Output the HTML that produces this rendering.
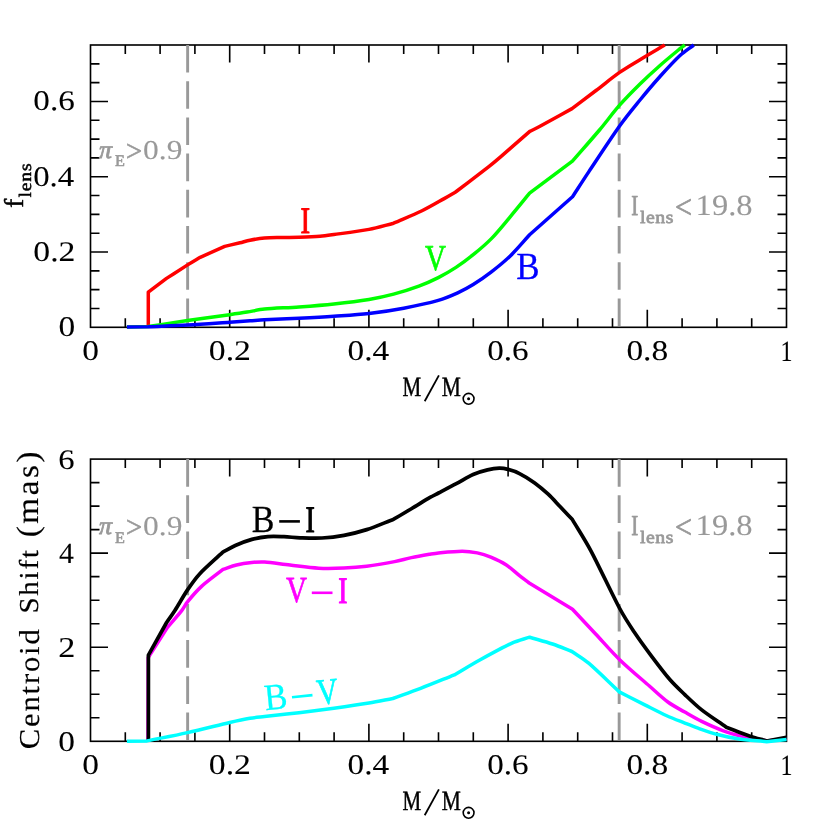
<!DOCTYPE html>
<html><head><meta charset="utf-8"><title>chart</title>
<style>html,body{margin:0;padding:0;background:#fff}svg{display:block;will-change:transform}text{text-rendering:geometricPrecision}</style>
</head><body>
<svg width="830" height="830" viewBox="0 0 830 830">
<rect width="830" height="830" fill="#fff"/>
<path d="M125.30 327.30v-9.00M125.30 45.00v9.00M160.10 327.30v-9.00M160.10 45.00v9.00M194.90 327.30v-9.00M194.90 45.00v9.00M229.70 327.30v-17.50M229.70 45.00v17.50M264.50 327.30v-9.00M264.50 45.00v9.00M299.30 327.30v-9.00M299.30 45.00v9.00M334.10 327.30v-9.00M334.10 45.00v9.00M368.90 327.30v-17.50M368.90 45.00v17.50M403.70 327.30v-9.00M403.70 45.00v9.00M438.50 327.30v-9.00M438.50 45.00v9.00M473.30 327.30v-9.00M473.30 45.00v9.00M508.10 327.30v-17.50M508.10 45.00v17.50M542.90 327.30v-9.00M542.90 45.00v9.00M577.70 327.30v-9.00M577.70 45.00v9.00M612.50 327.30v-9.00M612.50 45.00v9.00M647.30 327.30v-17.50M647.30 45.00v17.50M682.10 327.30v-9.00M682.10 45.00v9.00M716.90 327.30v-9.00M716.90 45.00v9.00M751.70 327.30v-9.00M751.70 45.00v9.00M90.50 308.48h9.00M786.50 308.48h-9.00M90.50 289.66h9.00M786.50 289.66h-9.00M90.50 270.84h9.00M786.50 270.84h-9.00M90.50 252.02h17.50M786.50 252.02h-17.50M90.50 233.20h9.00M786.50 233.20h-9.00M90.50 214.38h9.00M786.50 214.38h-9.00M90.50 195.56h9.00M786.50 195.56h-9.00M90.50 176.74h17.50M786.50 176.74h-17.50M90.50 157.92h9.00M786.50 157.92h-9.00M90.50 139.10h9.00M786.50 139.10h-9.00M90.50 120.28h9.00M786.50 120.28h-9.00M90.50 101.46h17.50M786.50 101.46h-17.50M90.50 82.64h9.00M786.50 82.64h-9.00M90.50 63.82h9.00M786.50 63.82h-9.00" stroke="#000" stroke-width="1.62" fill="none"/>
<rect x="90.50" y="45.00" width="696.00" height="282.30" fill="none" stroke="#000" stroke-width="1.62"/>
<line x1="187.64" y1="45.00" x2="187.64" y2="327.30" stroke="#999" stroke-width="2.9" stroke-dasharray="27.6 8.6"/>
<line x1="619.16" y1="45.00" x2="619.16" y2="327.30" stroke="#999" stroke-width="2.9" stroke-dasharray="27.6 8.6"/>
<path d="M148.30 327.00L148.30 292.20L166.50 278.40C173.53 273.90 181.98 268.42 187.60 264.90C191.80 262.27 196.00 259.83 200.20 257.30L224.70 246.40C229.80 245.20 235.78 243.83 240.00 242.80C243.33 241.98 246.67 240.85 250.00 240.20C254.08 239.40 259.67 238.41 264.50 238.00C269.83 237.55 276.25 237.63 282.00 237.50C287.67 237.37 293.33 237.39 299.00 237.20C305.33 236.98 314.18 236.65 320.00 236.20C324.63 235.84 329.27 235.14 333.90 234.50C342.07 233.37 359.05 231.28 369.00 229.40C377.20 227.85 385.40 225.27 393.60 223.20C403.07 219.07 413.57 214.90 422.00 210.80C429.40 207.20 438.60 201.73 444.20 198.60C448.00 196.47 451.80 194.20 455.60 192.00C466.57 183.60 481.10 172.58 488.50 166.80C492.33 163.80 496.17 160.59 500.00 157.30C506.88 151.40 519.87 140.03 529.80 131.40C533.20 129.70 536.60 128.14 540.00 126.30C547.03 122.50 561.33 114.50 572.00 108.60C580.00 102.57 588.07 96.53 596.00 90.50C603.87 84.52 611.93 77.73 619.60 72.40C627.07 67.21 634.53 63.03 642.00 58.50C649.53 53.93 657.20 49.50 664.80 45.00" fill="none" stroke="#f00" stroke-width="3.50" stroke-linejoin="round" stroke-linecap="butt"/>
<path d="M126.90 327.00L148.30 326.50C161.40 324.53 174.50 322.50 187.60 320.60C201.17 318.63 219.80 316.12 229.70 314.70C235.47 313.87 241.23 313.03 247.00 312.10C252.80 311.17 258.67 309.68 264.50 309.10C273.17 308.23 287.50 307.76 299.00 306.90C310.57 306.03 322.27 305.15 333.90 303.90C345.57 302.65 359.05 301.03 369.00 299.40C377.20 298.05 385.40 296.29 393.60 294.10C401.92 291.88 411.45 288.85 418.90 286.10C425.37 283.71 432.12 280.72 438.30 277.60C444.20 274.63 450.18 271.22 456.00 267.40C461.73 263.64 467.47 259.36 473.20 254.70C479.10 249.90 485.33 244.81 491.40 238.60C497.53 232.33 503.80 224.43 510.00 217.06C516.37 209.49 523.07 201.15 529.60 193.20L572.40 161.20C581.43 150.80 591.63 139.33 599.50 130.00C606.20 122.05 612.90 112.81 619.60 105.20C626.35 97.53 633.27 90.62 640.00 84.00C646.67 77.45 653.33 71.38 660.00 65.50C666.67 59.62 675.85 52.12 680.00 48.70C681.63 47.36 683.27 46.23 684.90 45.00" fill="none" stroke="#0f0" stroke-width="3.50" stroke-linejoin="round" stroke-linecap="butt"/>
<path d="M126.90 327.00L148.30 326.80C161.40 326.23 174.50 325.84 187.60 325.10C201.17 324.33 219.30 322.92 229.70 322.20C236.47 321.73 244.20 321.20 250.00 320.80C254.83 320.47 259.67 320.06 264.50 319.80C272.67 319.37 287.50 318.80 299.00 318.20C310.57 317.60 322.27 316.98 333.90 316.20C345.57 315.42 357.37 314.83 369.00 313.50C380.57 312.17 392.15 310.38 403.70 308.20C415.23 306.02 429.30 302.95 438.30 300.40C444.77 298.57 451.88 295.53 457.70 292.90C462.87 290.56 468.03 287.82 473.20 284.60C478.82 281.10 485.33 276.58 491.40 271.90C497.53 267.17 503.80 262.22 510.00 256.20C516.37 250.02 523.07 241.93 529.60 234.80L572.50 196.70C577.97 188.33 583.43 179.81 588.90 171.60C596.75 159.82 611.08 137.93 619.60 126.00C626.40 116.47 633.27 108.25 640.00 100.00C646.67 91.83 653.33 83.92 660.00 76.50C666.67 69.08 674.37 60.75 680.00 55.50C684.60 51.21 689.20 48.50 693.80 45.00" fill="none" stroke="#00f" stroke-width="3.50" stroke-linejoin="round" stroke-linecap="butt"/>
<path d="M125.30 741.30v-9.00M125.30 459.10v9.00M160.10 741.30v-9.00M160.10 459.10v9.00M194.90 741.30v-9.00M194.90 459.10v9.00M229.70 741.30v-17.50M229.70 459.10v17.50M264.50 741.30v-9.00M264.50 459.10v9.00M299.30 741.30v-9.00M299.30 459.10v9.00M334.10 741.30v-9.00M334.10 459.10v9.00M368.90 741.30v-17.50M368.90 459.10v17.50M403.70 741.30v-9.00M403.70 459.10v9.00M438.50 741.30v-9.00M438.50 459.10v9.00M473.30 741.30v-9.00M473.30 459.10v9.00M508.10 741.30v-17.50M508.10 459.10v17.50M542.90 741.30v-9.00M542.90 459.10v9.00M577.70 741.30v-9.00M577.70 459.10v9.00M612.50 741.30v-9.00M612.50 459.10v9.00M647.30 741.30v-17.50M647.30 459.10v17.50M682.10 741.30v-9.00M682.10 459.10v9.00M716.90 741.30v-9.00M716.90 459.10v9.00M751.70 741.30v-9.00M751.70 459.10v9.00M90.50 717.78h9.00M786.50 717.78h-9.00M90.50 694.27h9.00M786.50 694.27h-9.00M90.50 670.75h9.00M786.50 670.75h-9.00M90.50 647.23h17.50M786.50 647.23h-17.50M90.50 623.72h9.00M786.50 623.72h-9.00M90.50 600.20h9.00M786.50 600.20h-9.00M90.50 576.68h9.00M786.50 576.68h-9.00M90.50 553.17h17.50M786.50 553.17h-17.50M90.50 529.65h9.00M786.50 529.65h-9.00M90.50 506.13h9.00M786.50 506.13h-9.00M90.50 482.62h9.00M786.50 482.62h-9.00" stroke="#000" stroke-width="1.62" fill="none"/>
<rect x="90.50" y="459.10" width="696.00" height="282.20" fill="none" stroke="#000" stroke-width="1.62"/>
<line x1="187.64" y1="459.10" x2="187.64" y2="741.30" stroke="#999" stroke-width="2.9" stroke-dasharray="27.6 8.6"/>
<line x1="619.16" y1="459.10" x2="619.16" y2="741.30" stroke="#999" stroke-width="2.9" stroke-dasharray="27.6 8.6"/>
<path d="M148.00 741.00L148.20 657.60L167.50 627.30C172.23 621.73 178.37 614.85 181.70 610.60C183.63 608.13 185.57 604.17 187.50 601.80C190.77 597.80 196.70 590.80 201.30 586.60C207.22 581.20 215.77 575.13 223.00 569.40C227.50 567.93 232.00 566.08 236.50 565.00C241.28 563.85 247.02 563.00 251.70 562.50C256.00 562.04 260.30 561.71 264.60 562.00C270.98 562.43 281.53 564.13 290.00 565.10C299.02 566.13 309.70 567.71 318.70 568.21C327.13 568.67 336.00 568.40 344.00 568.08C351.57 567.77 359.13 567.23 366.70 566.27C375.13 565.19 387.15 563.06 394.60 561.63C400.20 560.55 405.80 558.82 411.40 557.64C417.30 556.41 425.48 554.99 430.00 554.20C432.83 553.70 435.67 553.16 438.50 552.90C443.87 552.40 455.73 551.20 462.20 551.20C467.23 551.20 472.53 551.92 477.30 552.90C481.80 553.83 486.30 555.25 490.80 557.10C495.58 559.07 501.22 561.62 506.00 564.70C510.50 567.60 515.63 572.55 519.50 575.60C522.73 578.15 525.97 580.53 529.20 583.00L572.50 609.20C580.13 617.37 587.77 625.54 595.40 633.70C603.30 642.15 611.73 651.99 619.90 659.90C628.90 668.62 641.40 678.98 649.40 686.00C655.57 691.41 662.00 697.65 667.90 702.00C673.53 706.15 679.17 708.87 684.80 712.10C690.43 715.33 696.07 718.67 701.70 721.40C708.13 724.52 716.42 728.27 723.40 730.80C730.13 733.24 736.87 735.01 743.60 736.60C750.82 738.30 759.00 739.53 766.70 741.00L786.50 738.50" fill="none" stroke="#f0f" stroke-width="3.50" stroke-linejoin="round" stroke-linecap="butt"/>
<path d="M148.40 741.00L148.40 655.20L166.60 622.50C169.37 618.50 172.13 614.82 174.90 610.50C178.38 605.07 183.38 596.00 187.50 589.90C191.53 583.92 195.57 578.22 199.60 573.90C205.48 567.60 215.07 559.37 222.80 552.10C226.97 549.90 231.13 547.32 235.30 545.50C240.15 543.38 246.47 540.88 251.90 539.40C257.23 537.94 262.57 537.05 267.90 536.60C273.25 536.15 278.65 536.50 284.00 536.70C289.33 536.90 294.67 537.62 300.00 537.80C306.33 538.02 314.67 538.42 322.00 538.01C329.33 537.59 336.67 536.69 344.00 535.32C351.45 533.92 359.13 532.07 366.70 529.62C374.98 526.94 384.70 522.68 393.70 519.21C399.60 515.72 405.50 512.28 411.40 508.74C417.45 505.10 425.48 500.02 430.00 497.40C432.83 495.75 435.67 494.48 438.50 493.00C442.88 490.72 450.53 486.78 456.30 483.70C461.90 480.71 467.90 476.80 473.10 474.50C477.90 472.38 483.13 470.95 487.50 469.90C491.43 468.95 495.88 468.28 499.30 468.20C502.20 468.13 505.10 468.62 508.00 469.40C511.37 470.30 515.67 471.66 519.50 473.60C523.95 475.85 529.92 479.47 534.70 482.90C539.20 486.13 543.98 490.27 548.20 494.20C552.13 497.87 556.07 502.37 560.00 506.50C564.03 510.73 568.27 515.23 572.40 519.60C578.57 530.00 584.73 539.21 590.90 550.80C598.78 565.62 612.48 594.97 619.70 608.50C624.53 617.56 629.37 624.75 634.20 632.00C639.43 639.85 645.47 648.07 651.10 655.60C657.00 663.48 663.98 672.80 669.60 679.30C674.67 685.16 679.73 689.77 684.80 694.60C690.15 699.70 696.07 705.47 701.70 709.90C708.62 715.33 718.10 721.43 726.30 727.20C734.00 730.10 742.67 733.60 749.40 735.90C755.17 737.87 760.93 739.30 766.70 741.00L786.50 737.30" fill="none" stroke="#000" stroke-width="3.70" stroke-linejoin="round" stroke-linecap="butt"/>
<path d="M126.90 741.20L147.10 740.90C160.60 738.13 174.10 735.61 187.60 732.60C201.37 729.53 219.30 724.88 229.70 722.50C236.47 720.95 244.20 719.30 250.00 718.31C254.83 717.49 259.67 717.14 264.50 716.59C272.67 715.65 287.50 714.09 299.00 712.70C310.57 711.30 322.27 709.81 333.90 708.20C345.57 706.58 359.18 704.62 369.00 703.00C376.93 701.69 384.87 700.00 392.80 698.50C402.07 695.13 411.33 691.96 420.60 688.40C430.85 684.47 443.07 679.40 454.30 674.90C462.80 669.93 471.30 664.68 479.80 660.00C489.42 654.70 503.68 646.90 512.00 643.10C517.90 640.40 523.80 639.17 529.70 637.20C537.30 639.47 545.47 641.62 552.50 644.00C558.97 646.19 565.43 649.00 571.90 651.50C577.50 655.40 583.10 658.43 588.70 663.20C596.60 669.93 609.10 682.33 619.30 691.90C627.63 696.13 636.48 700.67 644.30 704.60C651.60 708.27 659.45 712.42 666.20 715.50C672.40 718.33 679.62 721.03 684.80 723.10C688.97 724.76 693.13 726.45 697.30 727.90C702.77 729.80 710.85 732.68 717.60 734.50C724.33 736.31 731.07 737.81 737.80 738.80C745.98 740.00 757.07 740.73 766.70 741.70L786.50 739.50" fill="none" stroke="#0ff" stroke-width="3.50" stroke-linejoin="round" stroke-linecap="butt"/>
<text transform="matrix(0.3338 0 0 0.2841 82.15 360.09)" font-size="100" fill="#000" stroke="#000" stroke-width="0.26" stroke-linejoin="round" style="font-family:'Liberation Serif',serif">0</text>
<text transform="matrix(0.3372 0 0 0.2841 208.79 360.09)" font-size="100" fill="#000" stroke="#000" stroke-width="0.26" stroke-linejoin="round" style="font-family:'Liberation Serif',serif">0.2</text>
<text transform="matrix(0.3327 0 0 0.2841 347.61 360.09)" font-size="100" fill="#000" stroke="#000" stroke-width="0.26" stroke-linejoin="round" style="font-family:'Liberation Serif',serif">0.4</text>
<text transform="matrix(0.3315 0 0 0.2841 487.21 360.09)" font-size="100" fill="#000" stroke="#000" stroke-width="0.26" stroke-linejoin="round" style="font-family:'Liberation Serif',serif">0.6</text>
<text transform="matrix(0.3344 0 0 0.2841 626.40 360.09)" font-size="100" fill="#000" stroke="#000" stroke-width="0.26" stroke-linejoin="round" style="font-family:'Liberation Serif',serif">0.8</text>
<text transform="matrix(0.2406 0 0 0.2927 780.42 360.66)" font-size="100" fill="#000" stroke="#000" stroke-width="0.30" stroke-linejoin="round" style="font-family:'Liberation Serif',serif">1</text>
<text transform="matrix(0.3338 0 0 0.2841 82.15 774.09)" font-size="100" fill="#000" stroke="#000" stroke-width="0.26" stroke-linejoin="round" style="font-family:'Liberation Serif',serif">0</text>
<text transform="matrix(0.3372 0 0 0.2841 208.79 774.09)" font-size="100" fill="#000" stroke="#000" stroke-width="0.26" stroke-linejoin="round" style="font-family:'Liberation Serif',serif">0.2</text>
<text transform="matrix(0.3327 0 0 0.2841 347.61 774.09)" font-size="100" fill="#000" stroke="#000" stroke-width="0.26" stroke-linejoin="round" style="font-family:'Liberation Serif',serif">0.4</text>
<text transform="matrix(0.3315 0 0 0.2841 487.21 774.09)" font-size="100" fill="#000" stroke="#000" stroke-width="0.26" stroke-linejoin="round" style="font-family:'Liberation Serif',serif">0.6</text>
<text transform="matrix(0.3344 0 0 0.2841 626.40 774.09)" font-size="100" fill="#000" stroke="#000" stroke-width="0.26" stroke-linejoin="round" style="font-family:'Liberation Serif',serif">0.8</text>
<text transform="matrix(0.2406 0 0 0.2927 780.42 774.66)" font-size="100" fill="#000" stroke="#000" stroke-width="0.30" stroke-linejoin="round" style="font-family:'Liberation Serif',serif">1</text>
<text transform="matrix(0.3338 0 0 0.2841 58.40 335.99)" font-size="100" fill="#000" stroke="#000" stroke-width="0.26" stroke-linejoin="round" style="font-family:'Liberation Serif',serif">0</text>
<text transform="matrix(0.3372 0 0 0.2841 33.29 260.79)" font-size="100" fill="#000" stroke="#000" stroke-width="0.26" stroke-linejoin="round" style="font-family:'Liberation Serif',serif">0.2</text>
<text transform="matrix(0.3277 0 0 0.2841 33.13 185.59)" font-size="100" fill="#000" stroke="#000" stroke-width="0.26" stroke-linejoin="round" style="font-family:'Liberation Serif',serif">0.4</text>
<text transform="matrix(0.3315 0 0 0.2841 33.31 110.39)" font-size="100" fill="#000" stroke="#000" stroke-width="0.26" stroke-linejoin="round" style="font-family:'Liberation Serif',serif">0.6</text>
<text transform="matrix(0.3338 0 0 0.2841 58.30 750.59)" font-size="100" fill="#000" stroke="#000" stroke-width="0.26" stroke-linejoin="round" style="font-family:'Liberation Serif',serif">0</text>
<text transform="matrix(0.3420 0 0 0.2884 58.27 656.87)" font-size="100" fill="#000" stroke="#000" stroke-width="0.25" stroke-linejoin="round" style="font-family:'Liberation Serif',serif">2</text>
<text transform="matrix(0.2983 0 0 0.2927 59.04 562.87)" font-size="100" fill="#000" stroke="#000" stroke-width="0.27" stroke-linejoin="round" style="font-family:'Liberation Serif',serif">4</text>
<text transform="matrix(0.3260 0 0 0.2841 58.34 468.59)" font-size="100" fill="#000" stroke="#000" stroke-width="0.26" stroke-linejoin="round" style="font-family:'Liberation Serif',serif">6</text>
<text transform="matrix(0.2096 0 0 0.2788 402.57 395.92)" font-size="100" fill="#000" stroke="#000" stroke-width="1.64" stroke-linejoin="round" style="font-family:'Liberation Serif',serif">M</text>
<text transform="matrix(0.2145 0 0 0.2788 441.76 395.92)" font-size="100" fill="#000" stroke="#000" stroke-width="1.62" stroke-linejoin="round" style="font-family:'Liberation Serif',serif">M</text>
<line x1="424.7" y1="401.30" x2="438.9" y2="375.40" stroke="#000" stroke-width="1.8"/>
<circle cx="468.6" cy="398.80" r="5.4" fill="none" stroke="#000" stroke-width="1.6"/>
<circle cx="468.6" cy="398.80" r="1.5" fill="#000"/>
<text transform="matrix(0.2096 0 0 0.2788 402.57 809.92)" font-size="100" fill="#000" stroke="#000" stroke-width="1.64" stroke-linejoin="round" style="font-family:'Liberation Serif',serif">M</text>
<text transform="matrix(0.2145 0 0 0.2788 441.76 809.92)" font-size="100" fill="#000" stroke="#000" stroke-width="1.62" stroke-linejoin="round" style="font-family:'Liberation Serif',serif">M</text>
<line x1="424.7" y1="815.30" x2="438.9" y2="789.40" stroke="#000" stroke-width="1.8"/>
<circle cx="468.6" cy="812.80" r="5.4" fill="none" stroke="#000" stroke-width="1.6"/>
<circle cx="468.6" cy="812.80" r="1.5" fill="#000"/>
<g transform="rotate(-90)">
<text transform="matrix(0.2700 0 0 0.2704 -207.86 22.75)" font-size="100" fill="#000" stroke="#000" stroke-width="1.85" stroke-linejoin="round" style="font-family:'Liberation Serif',serif">f</text>
<text transform="matrix(0.1968 0 0 0.1757 -197.44 30.77)" font-size="100" fill="#000" stroke="#000" stroke-width="2.68" stroke-linejoin="round" style="font-family:'Liberation Serif',serif;letter-spacing:4.06px">lens</text>
<text transform="matrix(0.3053 0 0 0.2880 -749.15 38.65)" font-size="100" fill="#000" stroke="#000" stroke-width="0.51" stroke-linejoin="round" style="font-family:'Liberation Serif',serif;letter-spacing:6.09px">Centroid</text>
<text transform="matrix(0.2897 0 0 0.2733 -613.55 38.18)" font-size="100" fill="#000" stroke="#000" stroke-width="0.53" stroke-linejoin="round" style="font-family:'Liberation Serif',serif;letter-spacing:6.11px">Shift</text>
<text transform="matrix(0.3304 0 0 0.3117 -537.35 37.68)" font-size="100" fill="#000" stroke="#000" stroke-width="0.47" stroke-linejoin="round" style="font-family:'Liberation Serif',serif;letter-spacing:8.07px">(mas)</text>
</g>
<text transform="matrix(0.2889 0 0 0.3742 300.48 233.28)" font-size="100" fill="#f00" stroke="#f00" stroke-width="2.71" stroke-linejoin="round" style="font-family:'Liberation Serif',serif">I</text>
<text transform="matrix(0.2914 0 0 0.3642 425.11 270.07)" font-size="100" fill="#0f0" stroke="#0f0" stroke-width="1.83" stroke-linejoin="round" style="font-family:'Liberation Serif',serif">V</text>
<text transform="matrix(0.3500 0 0 0.3841 516.18 278.59)" font-size="100" fill="#00f" stroke="#00f" stroke-width="0.68" stroke-linejoin="round" style="font-family:'Liberation Serif',serif">B</text>
<text transform="matrix(0.3398 0 0 0.3841 251.81 532.29)" font-size="100" fill="#000" stroke="#000" stroke-width="0.69" stroke-linejoin="round" style="font-family:'Liberation Serif',serif">B</text>
<line x1="279.2" y1="521.4" x2="299.9" y2="521.4" stroke="#000" stroke-width="2.6"/>
<text transform="matrix(0.2815 0 0 0.3742 305.51 531.98)" font-size="100" fill="#000" stroke="#000" stroke-width="2.75" stroke-linejoin="round" style="font-family:'Liberation Serif',serif">I</text>
<text transform="matrix(0.2914 0 0 0.3672 286.01 602.47)" font-size="100" fill="#f0f" stroke="#f0f" stroke-width="1.82" stroke-linejoin="round" style="font-family:'Liberation Serif',serif">V</text>
<line x1="311.8" y1="592.8" x2="332.5" y2="592.8" stroke="#f0f" stroke-width="2.6"/>
<text transform="matrix(0.2778 0 0 0.3742 338.22 603.08)" font-size="100" fill="#f0f" stroke="#f0f" stroke-width="2.76" stroke-linejoin="round" style="font-family:'Liberation Serif',serif">I</text>
<g transform="translate(266.4 710.7) rotate(-5.7)">
<text transform="matrix(0.3449 0 0 0.3720 -0.91 -0.50)" font-size="100" fill="#0ff" stroke="#0ff" stroke-width="0.70" stroke-linejoin="round" style="font-family:'Liberation Serif',serif">B</text>
<line x1="26.8" y1="-10.9" x2="47.4" y2="-10.9" stroke="#0ff" stroke-width="2.6"/>
<text transform="matrix(0.2943 0 0 0.3657 51.81 -0.73)" font-size="100" fill="#0ff" stroke="#0ff" stroke-width="1.82" stroke-linejoin="round" style="font-family:'Liberation Serif',serif">V</text>
</g>
<text transform="matrix(0.2608 0 0 0.2489 98.94 157.65)" font-size="100" fill="#999" stroke="#999" stroke-width="3.14" stroke-linejoin="round" style="font-family:'Liberation Serif',serif;font-style:italic">π</text>
<text transform="matrix(0.1623 0 0 0.1621 114.91 165.94)" font-size="100" fill="#999" stroke="#999" stroke-width="3.70" stroke-linejoin="round" style="font-family:'Liberation Serif',serif">E</text>
<text transform="matrix(0.2851 0 0 0.3021 125.92 160.67)" font-size="100" fill="#999" stroke="#999" stroke-width="2.38" stroke-linejoin="round" style="font-family:'Liberation Serif',serif">&gt;</text>
<text transform="matrix(0.3145 0 0 0.2735 143.09 158.50)" font-size="100" fill="#999" stroke="#999" stroke-width="0.34" stroke-linejoin="round" style="font-family:'Liberation Serif',serif">0.9</text>
<text transform="matrix(0.2608 0 0 0.2489 98.94 534.25)" font-size="100" fill="#999" stroke="#999" stroke-width="3.14" stroke-linejoin="round" style="font-family:'Liberation Serif',serif;font-style:italic">π</text>
<text transform="matrix(0.1623 0 0 0.1621 114.91 542.54)" font-size="100" fill="#999" stroke="#999" stroke-width="3.70" stroke-linejoin="round" style="font-family:'Liberation Serif',serif">E</text>
<text transform="matrix(0.2851 0 0 0.3021 125.92 537.27)" font-size="100" fill="#999" stroke="#999" stroke-width="2.38" stroke-linejoin="round" style="font-family:'Liberation Serif',serif">&gt;</text>
<text transform="matrix(0.3145 0 0 0.2735 143.09 535.10)" font-size="100" fill="#999" stroke="#999" stroke-width="0.34" stroke-linejoin="round" style="font-family:'Liberation Serif',serif">0.9</text>
<text transform="matrix(0.2111 0 0 0.2894 631.32 215.16)" font-size="100" fill="#999" stroke="#999" stroke-width="2.80" stroke-linejoin="round" style="font-family:'Liberation Serif',serif">I</text>
<text transform="matrix(0.1968 0 0 0.1757 639.91 222.72)" font-size="100" fill="#999" stroke="#999" stroke-width="4.30" stroke-linejoin="round" style="font-family:'Liberation Serif',serif;letter-spacing:3.05px">lens</text>
<text transform="matrix(0.3021 0 0 0.3313 674.94 217.93)" font-size="100" fill="#999" stroke="#999" stroke-width="2.21" stroke-linejoin="round" style="font-family:'Liberation Serif',serif">&lt;</text>
<text transform="matrix(0.3253 0 0 0.2926 695.62 215.16)" font-size="100" fill="#999" stroke="#999" stroke-width="0.32" stroke-linejoin="round" style="font-family:'Liberation Serif',serif">19.8</text>
<text transform="matrix(0.2111 0 0 0.2894 631.32 535.16)" font-size="100" fill="#999" stroke="#999" stroke-width="2.80" stroke-linejoin="round" style="font-family:'Liberation Serif',serif">I</text>
<text transform="matrix(0.1968 0 0 0.1757 639.91 542.72)" font-size="100" fill="#999" stroke="#999" stroke-width="4.30" stroke-linejoin="round" style="font-family:'Liberation Serif',serif;letter-spacing:3.05px">lens</text>
<text transform="matrix(0.3021 0 0 0.3312 674.94 537.93)" font-size="100" fill="#999" stroke="#999" stroke-width="2.21" stroke-linejoin="round" style="font-family:'Liberation Serif',serif">&lt;</text>
<text transform="matrix(0.3253 0 0 0.2926 695.62 535.16)" font-size="100" fill="#999" stroke="#999" stroke-width="0.32" stroke-linejoin="round" style="font-family:'Liberation Serif',serif">19.8</text>
</svg>
</body></html>
